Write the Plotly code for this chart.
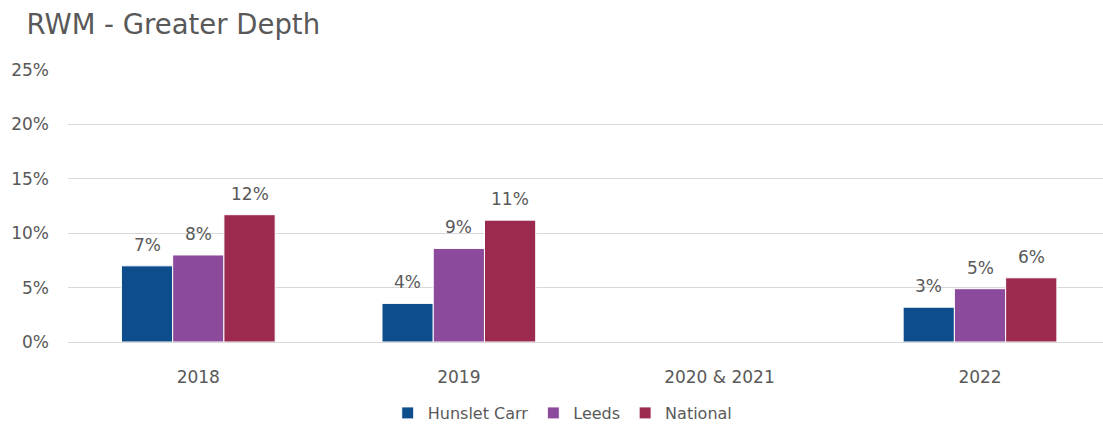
import plotly.graph_objects as go

# Reading, writing & maths greater-depth attainment
categories = ["2018", "2019", "2020 & 2021", "2022"]
hunslet_carr = [0.070, 0.0355, None, 0.032]
leeds = [0.080, 0.086, None, 0.049]
national = [0.117, 0.112, None, 0.059]

y_ticks = [0, 0.05, 0.10, 0.15, 0.20, 0.25]
y_tick_labels = ["0%", "5%", "10%", "15%", "20%", "25%"]

series = [
    ("Hunslet Carr", hunslet_carr, "#0E4D8C"),
    ("Leeds", leeds, "#8B4A9C"),
    ("National", national, "#9C2A4F"),
]

FONT = "DejaVu Sans, sans-serif"
GREY = "#595959"
BARGAP = 0.41
LABEL_LIFT = 21  # px between bar top and the middle of its value label

fig = go.Figure()
annotations = []
n_series = len(series)
bar_w = (1 - BARGAP) / n_series
for k, (name, values, colour) in enumerate(series):
    fig.add_trace(go.Bar(
        name=name,
        x=categories,
        y=values,
        marker=dict(color=colour, line=dict(color="white", width=1)),
    ))
    # value labels sit above each bar, at the bar's own slot in the group
    for i, v in enumerate(values):
        if v is None:
            continue
        annotations.append(dict(
            x=i + (k - (n_series - 1) / 2) * bar_w,
            y=v,
            xref="x", yref="y",
            text=f"{v:.0%}",
            showarrow=False,
            yanchor="middle",
            yshift=LABEL_LIFT,
            font=dict(family=FONT, size=17, color=GREY),
        ))

fig.update_layout(
    width=1103,
    height=430,
    paper_bgcolor="white",
    plot_bgcolor="white",
    margin=dict(l=68, r=0, t=70, b=88),
    barmode="group",
    bargap=BARGAP,
    bargroupgap=0,
    annotations=annotations,
    title=dict(
        text="RWM - Greater Depth",
        x=0.024, xanchor="left",
        y=0.944, yanchor="middle",
        font=dict(family=FONT, size=27.5, color=GREY),
    ),
    font=dict(family=FONT, size=17, color=GREY),
    legend=dict(
        orientation="h",
        x=0.478, xanchor="center",
        y=-0.261, yanchor="middle",
        font=dict(family=FONT, size=16, color=GREY),
        itemwidth=30,
    ),
    xaxis=dict(
        range=[-0.5, 3.472],
        showgrid=False,
        showline=True,
        linecolor="#D9D9D9",
        linewidth=1,
        ticks="",
        ticklabelstandoff=20,
        tickfont=dict(family=FONT, size=17, color=GREY),
    ),
    yaxis=dict(
        range=[0, 0.25],
        tickvals=y_ticks,
        ticktext=y_tick_labels,
        showgrid=True,
        gridcolor="#D9D9D9",
        gridwidth=1,
        zeroline=False,
        ticks="",
        ticklabelstandoff=18,
        tickfont=dict(family=FONT, size=17, color=GREY),
    ),
)

fig.write_html("out.html")
